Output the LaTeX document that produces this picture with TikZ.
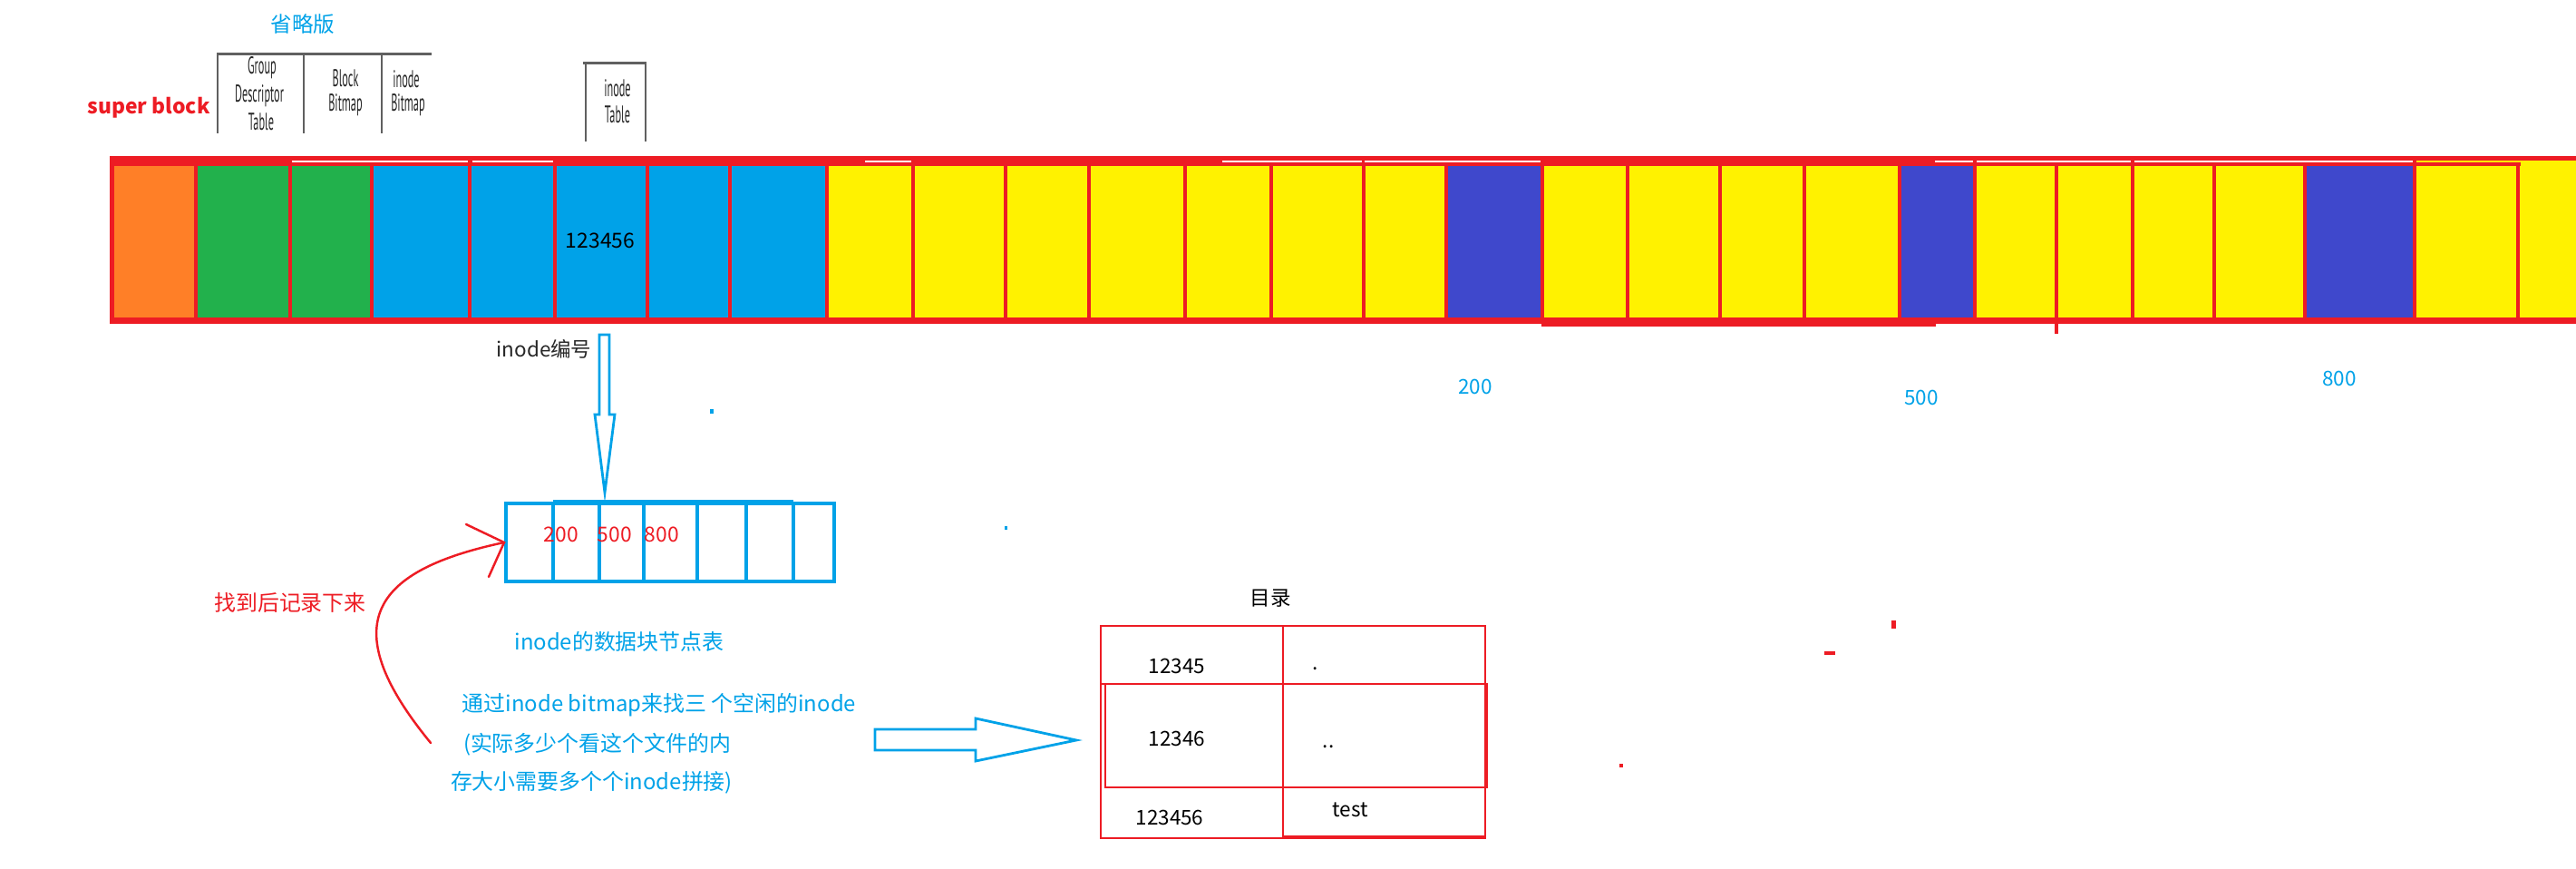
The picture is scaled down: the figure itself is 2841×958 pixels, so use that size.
\documentclass[tikz,border=0pt]{standalone}
\usepackage{fontspec}
\setmainfont{Noto Sans CJK SC}
\newfontfamily\hdrfont{PT Sans}
\definecolor{myred}{HTML}{ED1C24}
\definecolor{sbOrange}{HTML}{FF7F27}
\definecolor{sbGreen}{HTML}{22B14C}
\definecolor{sbBlue}{HTML}{00A2E8}
\definecolor{sbYellow}{HTML}{FFF200}
\definecolor{sbDark}{HTML}{3F48CC}
\definecolor{hdrgray}{HTML}{606060}
\tikzset{
  every node/.style={inner sep=0pt, outer sep=0pt},
  blacktxt/.style={text=black, font=\fontsize{6.4pt}{7pt}\selectfont},
  bluetxt/.style={text=sbBlue, font=\fontsize{6.8pt}{8pt}\selectfont},
  redtxt/.style={text=myred, font=\fontsize{6.6pt}{8pt}\selectfont},
  hdrtxt/.style={text=black!85, font=\hdrfont\fontsize{7.6pt}{8pt}\selectfont},
  hdrline/.style={draw=hdrgray, line width=0.5pt},
  hdrtop/.style={draw=hdrgray, line width=1pt},
  bluebox/.style={draw=sbBlue, line width=0.9pt},
  hollowarrow/.style={draw=sbBlue, line width=0.8pt, line join=miter},
  redbox/.style={draw=myred, line width=0.7pt},
  redcurve/.style={draw=myred, line width=0.7pt, line cap=round}
}
\begin{document}
\begin{tikzpicture}[x=0.01cm,y=-0.01cm]
\useasboundingbox (0,0) rectangle (2841,958);

% ---------- top labels ----------
\node[bluetxt, font=\fontsize{6.7pt}{8pt}\selectfont] (omit) at (334,27) {省略版};
\node[text=myred, font=\bfseries\fontsize{6.5pt}{8pt}\selectfont] (superblock) at (164,119) {super block};

% header picture pieces
\draw[hdrtop] (239,59.5) -- (476,59.5);
\draw[hdrline] (240,58) -- (240,147);
\draw[hdrline] (335,58) -- (335,147);
\draw[hdrline] (421,58) -- (421,147);
\node[hdrtxt] (gdt1) at (289,75) {\scalebox{0.46}[1]{Group}};
\node[hdrtxt] (gdt2) at (286,106) {\scalebox{0.46}[1]{Descriptor}};
\node[hdrtxt] (gdt3) at (288,134) {\scalebox{0.46}[1]{Table}};
\node[hdrtxt] (bb1) at (381,86) {\scalebox{0.46}[1]{Block}};
\node[hdrtxt] (bb2) at (381,116) {\scalebox{0.46}[1]{Bitmap}};
\node[hdrtxt] (ib1) at (448,87) {\scalebox{0.46}[1]{inode}};
\node[hdrtxt] (ib2) at (450,116) {\scalebox{0.46}[1]{Bitmap}};

\draw[hdrtop] (643,69.5) -- (713,69.5);
\draw[hdrline] (646,69) -- (646,156);
\draw[hdrline] (712,69) -- (712,156);
\node[hdrtxt] (it1) at (681,97) {\scalebox{0.46}[1]{inode}};
\node[hdrtxt] (it2) at (681,126) {\scalebox{0.46}[1]{Table}};

% ---------- main block bar ----------
\foreach \a/\b/\c in {123/216/sbOrange, 216/320/sbGreen, 320/410/sbGreen,
  410/518/sbBlue, 518/612/sbBlue, 612/714/sbBlue, 714/805/sbBlue, 805/912/sbBlue,
  912/1007/sbYellow, 1007/1109/sbYellow, 1109/1201/sbYellow, 1201/1307/sbYellow,
  1307/1402/sbYellow, 1402/1504/sbYellow, 1504/1595/sbYellow, 1595/1701/sbDark,
  1701/1795/sbYellow, 1795/1897/sbYellow, 1897/1990/sbYellow, 1990/2095/sbYellow,
  2095/2178/sbDark, 2178/2268/sbYellow, 2268/2352/sbYellow, 2352/2442/sbYellow,
  2442/2542/sbYellow, 2542/2663/sbDark, 2663/2777/sbYellow, 2777/2841/sbYellow}
  \fill[\c] (\a,176) rectangle (\b,354);

% red borders
\fill[myred] (121,172) rectangle (2841,183);
\fill[myred] (121,350) rectangle (2841,357);
\fill[myred] (1700,357) rectangle (2135,360);
\fill[myred] (121,172) rectangle (126,357);
\foreach \x in {216,320,410,518,612,714,805,912,1007,1109,1201,1307,1402,1504,1595,1701,1795,1897,1990,2095,2178,2268,2352,2442,2542,2663,2777}
  \fill[myred] (\x-1.6,172) rectangle (\x+1.6,357);
\fill[myred] (2266,357) rectangle (2270,368);
% white gaps between overlapping red rectangles
\foreach \a/\b in {322/516, 521/610, 954/1005, 1348/1502, 1505/1699, 2134/2176, 2180/2350, 2354/2661}
  \fill[white] (\a,177) rectangle (\b,179);
\fill[sbYellow] (2665,177) rectangle (2841,179);
\fill[sbYellow] (2780,179) rectangle (2841,183);
\fill[myred] (2775,179) rectangle (2779,183);

\node[blacktxt, font=\fontsize{6.5pt}{7pt}\selectfont] (inum) at (662,265) {123456};

% ---------- inode number arrow ----------
\node[text=black!85, font=\fontsize{6.4pt}{7pt}\selectfont] (inolabel) at (600,385) {inode编号};
\coordinate (dtop) at (667,369);
\coordinate (dtip) at (667,543);
\draw[hollowarrow] (661,369) -- (672,369) -- (672,457) -- (678,457) -- (dtip)
  -- (656,457) -- (661,457) -- cycle;

% ---------- inode data block table ----------
\draw[bluebox] (558,555) rectangle (920,641);
\draw[bluebox] (610,553) -- (875,553);
\foreach \x in {610,661,710,769,823,875}
  \draw[bluebox] (\x,553) -- (\x,641);
\node[redtxt, font=\fontsize{6.5pt}{7pt}\selectfont] (n200) at (619,589) {200};
\node[redtxt, font=\fontsize{6.5pt}{7pt}\selectfont] (n500) at (678,589) {500};
\node[redtxt, font=\fontsize{6.5pt}{7pt}\selectfont] (n800) at (730,589) {800};

% blue labels on the right
\node[bluetxt, font=\fontsize{6.4pt}{7pt}\selectfont] (l200) at (1627,426) {200};
\node[bluetxt, font=\fontsize{6.4pt}{7pt}\selectfont] (l500) at (2119,438) {500};
\node[bluetxt, font=\fontsize{6.4pt}{7pt}\selectfont] (l800) at (2580,417) {800};

% texts
\node[bluetxt] (tbl) at (683,707) {inode的数据块节点表};
\node[bluetxt] (t1) at (727,777) {通过inode bitmap来找三 个空闲的inode};
\node[bluetxt, anchor=west] (t2) at (511,821) {(实际多少个看这个文件的内};
\node[bluetxt, anchor=west] (t3) at (497,863) {存大小需要多个个inode拼接)};
\node[redtxt, font=\fontsize{6.8pt}{8pt}\selectfont] (found) at (320,664) {找到后记录下来};

% red curved arrow
\coordinate (cstart) at (475,819);
\coordinate (ctip) at (556,598);
\coordinate (carm1) at (514,578);
\coordinate (carm2) at (539,636);
\draw[redcurve] (cstart) .. controls (365,685) and (415,628) .. (ctip);
\draw[redcurve] (carm1) -- (ctip) -- (carm2);

% hollow right arrow
\draw[hollowarrow] (965,804) -- (1076,804) -- (1076,792) -- (1187,816) -- (1076,839)
  -- (1076,827) -- (965,827) -- cycle;

% ---------- directory table ----------
\node[blacktxt] (dirlabel) at (1401,660) {目录};
\draw[redbox] (1214,690) rectangle (1638,924);
\draw[redbox] (1415,690) -- (1415,924);
\draw[redbox] (1214,754) -- (1638,754);
\draw[redbox] (1219,754) rectangle (1640,868);
\draw[myred, line width=1pt] (1415,922.5) -- (1638,922.5);
\node[blacktxt] (d1) at (1298,734) {12345};
\node[blacktxt] (d2) at (1298,814) {12346};
\node[blacktxt] (d3) at (1290,901) {123456};
\node[blacktxt] (d4) at (1451,737) {.};
\node[blacktxt] (d5) at (1465,823) {..};
\node[blacktxt] (d6) at (1489,893) {test};

% stray marks
\fill[sbBlue] (783,451) rectangle (787,456);
\fill[sbBlue] (1108,580) rectangle (1111,584);
\fill[myred] (2086,684) rectangle (2091,693);
\fill[myred] (2012,718) rectangle (2024,722);
\fill[myred] (1786,842) rectangle (1790,846);
\end{tikzpicture}
\end{document}
